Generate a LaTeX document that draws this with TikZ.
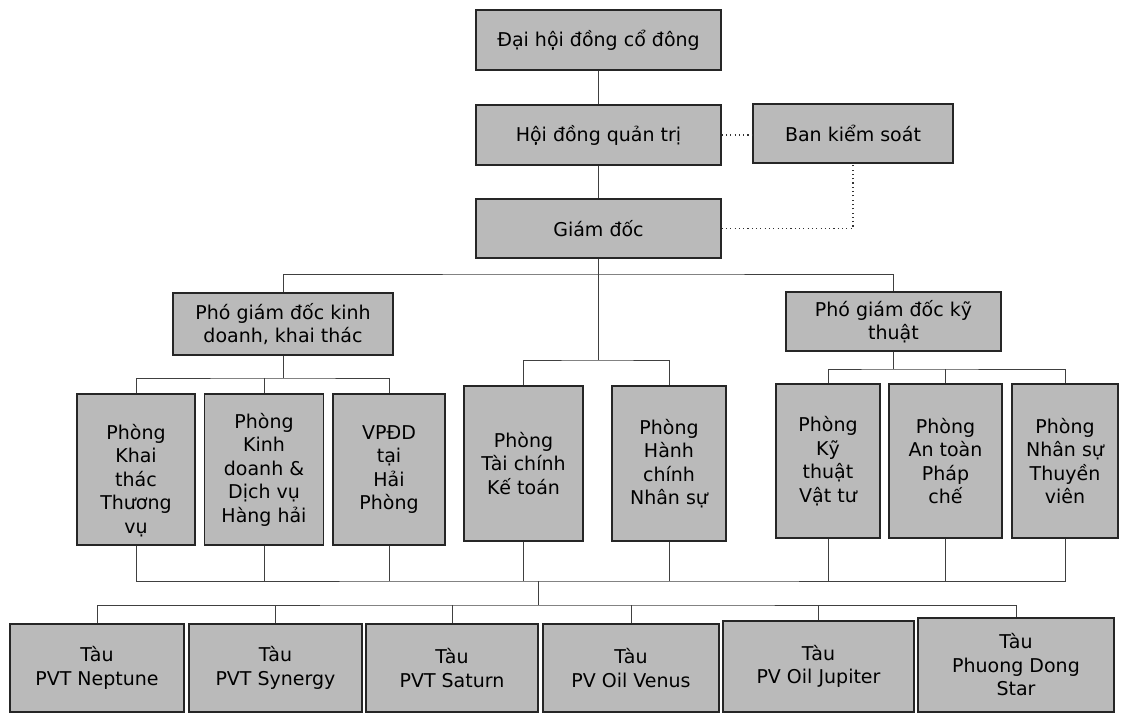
\documentclass[tikz,border=0pt]{standalone}
\usepackage{fontspec}
\setmainfont{DejaVu Sans}
\usepackage{tikz}
\tikzset{box/.style={draw=black!85,line width=1.3pt,fill=black!27,align=center,
   inner sep=0pt,font=\fontsize{19}{23.5}\selectfont},
 link/.style={draw=black!75,line width=0.9pt},
 dots/.style={draw=black!80,line width=1.1pt,dash pattern=on 1.1pt off 3.2pt},
 }

\begin{document}
\begin{tikzpicture}[x=1pt,y=-1pt]
        \useasboundingbox (0,0) rectangle (1125,715);
        \node[box,minimum width=245,minimum height=60] (dhcd) at (598.5,40) {Đại hội đồng cổ đông};
        \node[box,minimum width=245,minimum height=60] (hdqt) at (598.5,135) {Hội đồng quản trị};
        \node[box,minimum width=200,minimum height=59] (bks) at (853,133.5) {Ban kiểm soát};
        \node[box,minimum width=245,minimum height=59] (gd) at (598.5,228.5) {Giám đốc};
        \node[box,minimum width=220,minimum height=62] (pgdkd) at (283,324) {Phó giám đốc kinh\\doanh, khai thác};
        \node[box,minimum width=215,minimum height=59] (pgdkt) at (893.5,321.5) {Phó giám đốc kỹ\\thuật};
        \node[box,minimum width=118,minimum height=151] (pkt) at (136,469.5) {\mbox{}\\[13pt]Phòng\\Khai\\thác\\Thương\\vụ};
        \node[box,minimum width=119,minimum height=151] (pkd) at (264,469.5) {Phòng\\Kinh\\doanh \&\\Dịch vụ\\Hàng hải};
        \node[box,minimum width=112,minimum height=151] (vpdd) at (389,469.5) {VPĐD\\tại\\Hải\\Phòng};
        \node[box,minimum width=119,minimum height=155] (ptc) at (523.5,463.5) {Phòng\\Tài chính\\Kế toán};
        \node[box,minimum width=114,minimum height=155] (phc) at (669,463.5) {Phòng\\Hành\\chính\\Nhân sự};
        \node[box,minimum width=104,minimum height=154] (pktvt) at (828,461) {Phòng\\Kỹ\\thuật\\Vật tư};
        \node[box,minimum width=113,minimum height=154] (patpc) at (945.5,461) {Phòng\\An toàn\\Pháp\\chế};
        \node[box,minimum width=106,minimum height=154] (pnstv) at (1065,461) {Phòng\\Nhân sự\\Thuyền\\viên};
        \node[box,minimum width=174,minimum height=88] (t1) at (97,668) {Tàu\\PVT Neptune};
        \node[box,minimum width=173,minimum height=88] (t2) at (275.5,668) {Tàu\\PVT Synergy};
        \node[box,minimum width=172,minimum height=88] (t3) at (452,668) {Tàu\\PVT Saturn};
        \node[box,minimum width=176,minimum height=88] (t4) at (631,668) {Tàu\\PV Oil Venus};
        \node[box,minimum width=191,minimum height=91] (t5) at (818.5,666.5) {Tàu\\PV Oil Jupiter};
        \node[box,minimum width=196,minimum height=94] (t6) at (1016,665) {Tàu\\Phuong Dong\\Star};
        \coordinate (j1) at (598.5,274);
        \coordinate (j2) at (598.5,360);
        \coordinate (j3) at (283,378);
        \coordinate (j4) at (893.5,369);
        \coordinate (j5) at (538,581);
        \coordinate (j6) at (538,605);
        \draw[link] (dhcd) -- (hdqt);
        \draw[link] (hdqt) -- (gd);
        \draw[dots] (hdqt.east) -- (hdqt.east -| bks.west);
        \draw[dots] (gd.east) -| (bks.south);
        \draw[link] (gd.south) -- (j1) -- (j2);
        \draw[link] (pgdkd.north) |- (j1) -| (pgdkt.north);
        \draw[link] (ptc.north) |- (j2) -| (phc.north);
        \draw[link] (pgdkd.south) -- (j3);
        \draw[link] (pkt.north) |- (j3) -| (vpdd.north);
        \draw[link] (pkd.north) -- (pkd.north |- j3);
        \draw[link] (pgdkt.south) -- (j4);
        \draw[link] (pktvt.north) |- (j4) -| (pnstv.north);
        \draw[link] (patpc.north) -- (patpc.north |- j4);
        \draw[link] (pkt.south) |- (j5) -| (pnstv.south);
        \draw[link] (pkd.south) -- (pkd.south |- j5);
        \draw[link] (vpdd.south) -- (vpdd.south |- j5);
        \draw[link] (ptc.south) -- (ptc.south |- j5);
        \draw[link] (phc.south) -- (phc.south |- j5);
        \draw[link] (pktvt.south) -- (pktvt.south |- j5);
        \draw[link] (patpc.south) -- (patpc.south |- j5);
        \draw[link] (j5) -- (j6);
        \draw[link] (t1.north) |- (j6) -| (t6.north);
        \draw[link] (t2.north) -- (t2.north |- j6);
        \draw[link] (t3.north) -- (t3.north |- j6);
        \draw[link] (t4.north) -- (t4.north |- j6);
        \draw[link] (t5.north) -- (t5.north |- j6);
\end{tikzpicture}
\end{document}
